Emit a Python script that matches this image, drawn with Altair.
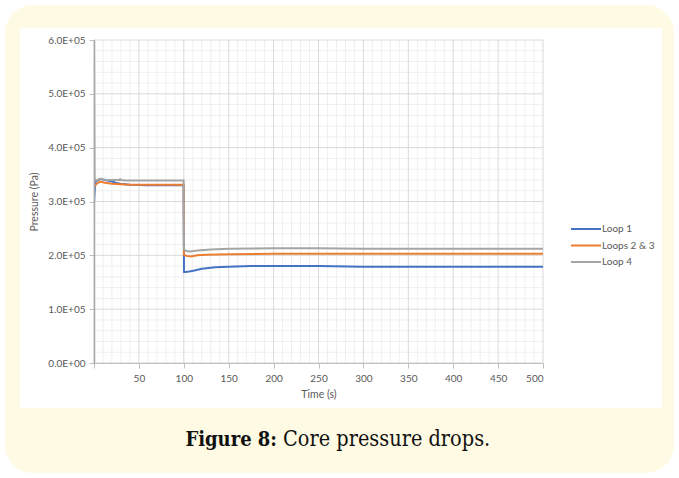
import altair as alt
import pandas as pd

# ---- data ----
t_loop1 = [0, 1, 2, 4, 7, 12, 18, 24, 29, 40, 60, 80, 99.8, 100.2, 102, 106, 112, 120, 135, 150, 175, 200, 250, 300, 400, 500]
p_loop1 = [2.98e5, 3.25e5, 3.37e5, 3.39e5, 3.42e5, 3.40e5, 3.38e5, 3.35e5, 3.33e5, 3.31e5, 3.30e5, 3.30e5, 3.30e5,
           1.69e5, 1.69e5, 1.70e5, 1.72e5, 1.75e5, 1.78e5, 1.79e5, 1.80e5, 1.80e5, 1.80e5, 1.79e5, 1.79e5, 1.79e5]

t_loop23 = [0, 1, 3, 7, 12, 20, 29, 40, 60, 80, 99.8, 100.2, 103, 108, 115, 125, 150, 200, 250, 300, 400, 500]
p_loop23 = [3.25e5, 3.30e5, 3.33e5, 3.37e5, 3.35e5, 3.33e5, 3.32e5, 3.31e5, 3.31e5, 3.31e5, 3.31e5,
            2.01e5, 1.99e5, 1.98e5, 2.00e5, 2.01e5, 2.02e5, 2.03e5, 2.03e5, 2.03e5, 2.03e5, 2.03e5]

t_loop4 = [0, 0.6, 3, 6, 10, 15, 25, 28.8, 29.2, 29.6, 35, 60, 80, 99.8, 100.2, 103, 107, 115, 130, 150, 200, 250, 300, 400, 500]
p_loop4 = [6.0e5, 3.42e5, 3.39e5, 3.42e5, 3.41e5, 3.40e5, 3.40e5, 3.40e5, 3.43e5, 3.40e5, 3.39e5, 3.39e5, 3.39e5, 3.39e5,
           2.11e5, 2.08e5, 2.07e5, 2.09e5, 2.11e5, 2.12e5, 2.13e5, 2.13e5, 2.12e5, 2.12e5, 2.12e5]

series_names = ["Loop 1", "Loops 2 & 3", "Loop 4"]
series_colors = ["#4472C4", "#ED7D31", "#A5A5A5"]

x_major = [0, 50, 100, 150, 200, 250, 300, 350, 400, 450, 500]
x_minor = [v for v in range(10, 500, 10) if v % 50 != 0]
y_major = [0, 1e5, 2e5, 3e5, 4e5, 5e5, 6e5]
y_minor = [v * 2e4 for v in range(1, 30) if v % 5 != 0]

caption_bold = "Figure 8:"
caption_rest = "Core pressure drops."

# ---- frames ----
rows = []
for name, ts, ps in [(series_names[0], t_loop1, p_loop1),
                     (series_names[1], t_loop23, p_loop23),
                     (series_names[2], t_loop4, p_loop4)]:
    for i, (t, p) in enumerate(zip(ts, ps)):
        rows.append({"series": name, "t": t, "p": p, "order": i})
df = pd.DataFrame(rows)

W, H = 449, 323
PL, PT = 94, 40
FONT = "Lato"
TXT = "#595959"
CAPFONT = "DejaVu Serif Condensed"

xscale = alt.Scale(domain=[0, 500], nice=False, zero=False)
yscale = alt.Scale(domain=[0, 6e5], nice=False)

one = alt.Data(values=[{}])

cream = alt.Chart(one).mark_rect(color="#FFFAE3", cornerRadius=28).encode(
    x=alt.value(5 - PL), x2=alt.value(674 - PL), y=alt.value(5 - PT), y2=alt.value(473 - PT))
white = alt.Chart(one).mark_rect(color="#FFFFFF").encode(
    x=alt.value(20 - PL), x2=alt.value(662 - PL), y=alt.value(28 - PT), y2=alt.value(408 - PT))

xminor = alt.Chart(pd.DataFrame({"t": x_minor})).mark_rule(color="#EFEFEF", strokeWidth=1).encode(
    x=alt.X("t:Q", scale=xscale), y=alt.value(0), y2=alt.value(H))
yminor = alt.Chart(pd.DataFrame({"p": y_minor})).mark_rule(color="#EFEFEF", strokeWidth=1).encode(
    y=alt.Y("p:Q", scale=yscale), x=alt.value(0), x2=alt.value(W))
xmajor = alt.Chart(pd.DataFrame({"t": x_major})).mark_rule(color="#D9D9D9", strokeWidth=1).encode(
    x=alt.X("t:Q", scale=xscale), y=alt.value(0), y2=alt.value(H))
ymajor = alt.Chart(pd.DataFrame({"p": y_major})).mark_rule(color="#D9D9D9", strokeWidth=1).encode(
    y=alt.Y("p:Q", scale=yscale), x=alt.value(0), x2=alt.value(W))

lines = alt.Chart(df).mark_line(strokeWidth=2, clip=True).encode(
    x=alt.X("t:Q", scale=xscale, title="Time (s)",
            axis=alt.Axis(values=x_major, grid=False, zindex=1, domainColor="#BFBFBF", tickColor="#BFBFBF",
                          tickSize=5, labelPadding=5, labelFontSize=10, labelColor=TXT, labelFont=FONT,
                          labelExpr="datum.value == 0 ? '' : datum.label",
                          titleFont=FONT, titleFontSize=10.5, titleFontWeight="normal", titleColor=TXT,
                          titlePadding=6)),
    y=alt.Y("p:Q", scale=yscale, title="Pressure (Pa)",
            axis=alt.Axis(values=y_major, grid=False, zindex=1, domainColor="#A6A6A6", domainWidth=1.5,
                          tickColor="#BFBFBF", tickSize=5, labelPadding=4, labelFontSize=10, labelColor=TXT,
                          labelFont=FONT,
                          labelExpr="datum.value == 0 ? '0.0E+00' : format(datum.value / 1e5, '.1f') + 'E+05'",
                          titleFont=FONT, titleFontSize=10.5, titleFontWeight="normal", titleColor=TXT,
                          titlePadding=8)),
    color=alt.Color("series:N", scale=alt.Scale(domain=series_names, range=series_colors),
                    legend=alt.Legend(title=None, orient="none", legendX=476, legendY=181, zindex=1,
                                      symbolType="stroke", symbolSize=900, symbolStrokeWidth=2,
                                      labelFont=FONT, labelFontSize=10, labelColor=TXT, labelOffset=0,
                                      clipHeight=16, rowPadding=0.5)),
    order="order:Q",
)

cap1 = alt.Chart(one).mark_text(text=caption_bold, font=CAPFONT, fontSize=20, fontWeight="bold",
                                 align="right", baseline="alphabetic", color="#111111").encode(
    x=alt.value(277 - PL), y=alt.value(446 - PT))
cap2 = alt.Chart(one).mark_text(text=caption_rest, font=CAPFONT, fontSize=21.5,
                                 align="left", baseline="alphabetic", color="#111111").encode(
    x=alt.value(283 - PL), y=alt.value(446 - PT))

chart = alt.layer(cream, white, xminor, yminor, xmajor, ymajor, lines, cap1, cap2).properties(
    width=W, height=H, autosize=alt.AutoSizeParams(type="none"),
    padding={"left": PL, "top": PT, "right": 679 - PL - W, "bottom": 478 - PT - H},
    background="#FFFFFF",
).configure_view(stroke=None)

chart.save("out.html", embed_options={"renderer": "svg", "actions": False})
